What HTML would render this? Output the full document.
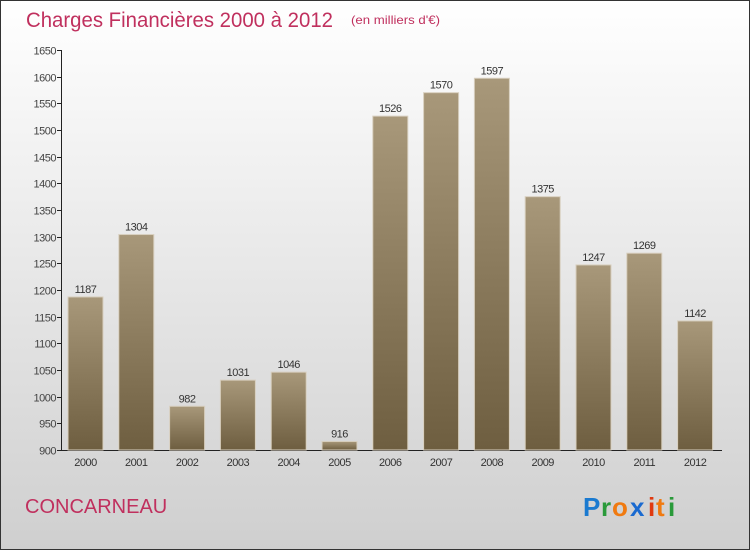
<!DOCTYPE html>
<html><head><meta charset="utf-8"><style>
body{margin:0;width:750px;height:550px;overflow:hidden;font-family:"Liberation Sans",sans-serif}
</style></head><body>
<svg width="750" height="550" xmlns="http://www.w3.org/2000/svg">
<defs>
<linearGradient id="bg" x1="0" y1="0" x2="0" y2="1"><stop offset="0" stop-color="#ffffff"/><stop offset="1" stop-color="#cfcfcf"/></linearGradient>
<linearGradient id="bar" x1="0" y1="0" x2="0" y2="1"><stop offset="0" stop-color="#a8987a"/><stop offset="1" stop-color="#6e5e40"/></linearGradient>
</defs>
<rect x="0.5" y="0.5" width="749" height="549" fill="url(#bg)" stroke="#333"/>
<text x="26" y="27" font-size="21" fill="#c0305e" textLength="307" lengthAdjust="spacingAndGlyphs">Charges Financières 2000 à 2012</text>
<text x="351" y="24" font-size="12" fill="#c0305e" textLength="89" lengthAdjust="spacingAndGlyphs">(en milliers d'€)</text>
<g id="axes"></g><g id="bars"></g>
<text x="25" y="513" font-size="20" fill="#c0305e">CONCARNEAU</text>
<g font-size="26" font-weight="bold">
<text x="583" y="516" fill="#1a7ad0">P</text><text x="601" y="516" fill="#2a9a3a">r</text><text x="612" y="516" fill="#f07a10">o</text><text x="630" y="516" fill="#1a6ad0">x</text><text x="648" y="516" fill="#e03a10">i</text><text x="656" y="516" fill="#f07a10">t</text><text x="668" y="516" fill="#2a9a3a">i</text>
</g>
</svg>
<script>
const years=["2000","2001","2002","2003","2004","2005","2006","2007","2008","2009","2010","2011","2012"];
const values=[1187,1304,982,1031,1046,916,1526,1570,1597,1375,1247,1269,1142];
const ticks=[900,950,1000,1050,1100,1150,1200,1250,1300,1350,1400,1450,1500,1550,1600,1650];
const NS="http://www.w3.org/2000/svg";
const y0=450,y1=50,vmin=900,vmax=1650;
function yS(v){return y0-(v-vmin)/(vmax-vmin)*(y0-y1);}
function xS(i){return 68+i*50.8;}
const bw=35;
function mk(t,a,p){const e=document.createElementNS(NS,t);for(const k in a)e.setAttribute(k,a[k]);p.appendChild(e);return e;}
const ax=document.getElementById('axes'),bg=document.getElementById('bars');
let l=mk('line',{x1:61.5,y1:y1,x2:61.5,y2:y0,stroke:'#222'},ax);


l=mk('line',{x1:61,y1:450.5,x2:722,y2:450.5,stroke:'#222'},ax);


ticks.forEach(t=>{const y=Math.round(yS(t))+0.5;
mk('line',{x1:57,y1:y,x2:62,y2:y,stroke:'#222'},ax);
const tx=mk('text',{x:56,y:y+4,'font-size':11,fill:'#444','text-anchor':'end','letter-spacing':'-0.5'},ax);tx.textContent=t;

});
values.forEach((v,i)=>{const x=xS(i),y=yS(v);
const r=mk('rect',{x:x,y:y,width:bw,height:y0-y,fill:'url(#bar)',stroke:'#d8cfbf','stroke-width':1},bg);


const t=mk('text',{x:x+bw/2,y:y-4,'font-size':11,fill:'#333','text-anchor':'middle','letter-spacing':'-0.5'},bg);t.textContent=v;


const xl=mk('text',{x:x+bw/2,y:466,'font-size':11,fill:'#333','text-anchor':'middle','letter-spacing':'-0.5'},bg);xl.textContent=years[i];

});
</script>
</body></html>
